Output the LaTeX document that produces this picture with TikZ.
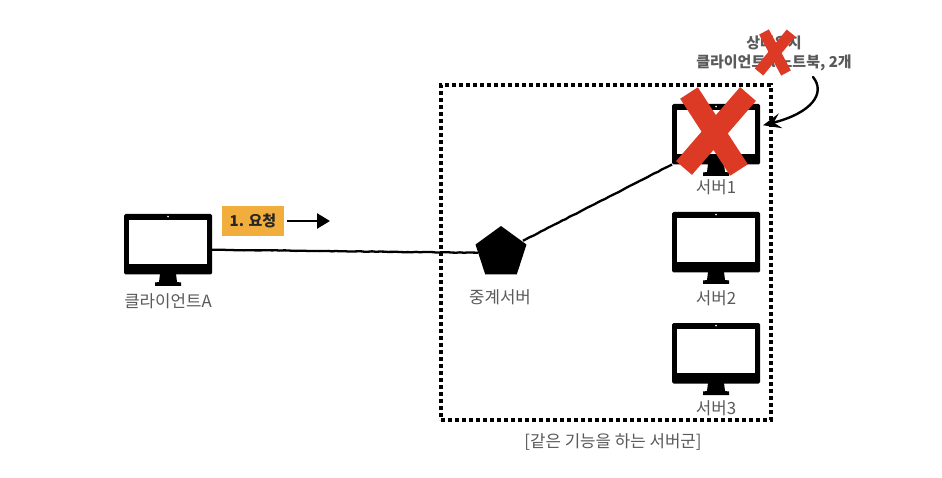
\documentclass[tikz,border=0pt]{standalone}
\usepackage{fontspec}
\setmainfont{Noto Sans CJK KR}
\usetikzlibrary{arrows.meta,shapes.geometric,decorations.pathmorphing}
\definecolor{lbl}{HTML}{5A5A5A}
\definecolor{xred}{HTML}{DC3A25}
\definecolor{reqfill}{HTML}{F1AE3D}
\tikzset{
  monbody/.style={fill=black,rounded corners=1.5pt,minimum width=88pt,minimum height=60.5pt,inner sep=0pt,outer sep=0pt},
  monscreen/.style={fill=white,minimum width=78pt,minimum height=44pt,inner sep=0pt,outer sep=0pt},
  lab/.style={text=lbl,inner sep=0pt,font=\fontsize{16.8}{18}\selectfont},
  toplab/.style={text=lbl,inner sep=0pt,font=\fontsize{15}{16}\selectfont\bfseries},
  rough/.style={draw=black,line width=2.3pt,decorate,decoration={random steps,segment length=4pt,amplitude=0.25pt}},
  groupbox/.style={draw=black,line width=3.6pt,dash pattern=on 3.6pt off 3.4pt},
  redx/.style={draw=xred,line cap=butt},
}
\newcommand{\monitorat}[3]{%
  \node[monbody] (#1) at (#2,#3+30.25) {};
  \node[monscreen] (#1scr) at (#2,#3+28) {};
  \fill[white] (#2,#3+2.6) circle (0.9pt);
  \fill[black] (#2-8,#3+60) -- (#2+8,#3+60) -- (#2+9,#3+68) -- (#2+13,#3+68.5) -- (#2+13,#3+72) -- (#2-13,#3+72) -- (#2-13,#3+68.5) -- (#2-9,#3+68) -- cycle;
}
\begin{document}
\begin{tikzpicture}[x=1pt,y=-1pt]
\useasboundingbox (0,0) rectangle (942,478);
\fill[white] (0,0) rectangle (942,478);
% group box
\node[groupbox,minimum width=330pt,minimum height=335pt,inner sep=0pt] (group) at (606,252.5) {};
% monitors
\monitorat{client}{168}{214}
\monitorat{srvA}{716}{104}
\monitorat{srvB}{716}{212}
\monitorat{srvC}{716}{323}
% relay
\node[regular polygon,regular polygon sides=5,fill=black,minimum size=53.6pt,inner sep=0pt,outer sep=0pt] (relay) at (501,252.8) {};
% connectors
\draw[rough] ([shift={(0,5.5)}]client.east) -- (relay.west);
\draw[rough] ([shift={(22,-12)}]relay.center) -- (srvA.south west);
% labels
\node[lab] (lclient) at (168,301.5) {클라이언트A};
\node[lab] (lrelay) at (500,297.5) {중계서버};
\node[lab] (lA) at (716,187.5) {서버1};
\node[lab] (lB) at (716,298.5) {서버2};
\node[lab] (lC) at (716,408.5) {서버3};
\node[lab] (lgroup) at (613,441.5) {[같은 기능을 하는 서버군]};
% request
\node[fill=reqfill,minimum width=62pt,minimum height=30pt,inner sep=0pt,font=\fontsize{15}{16}\selectfont\bfseries,text=black!85] (req) at (253,221) {1. 요청};
\coordinate (reqend) at (330,221);
\draw[line width=2.6pt,-{Triangle[length=13pt,width=15pt]}] ([shift={(3,0)}]req.east) -- (reqend);
% top note
\node[toplab] (note1) at (774,43) {상태유지};
\node[toplab] (note2) at (774,63) {클라이언트A 노트북, 2개};
\coordinate (nstart) at (813,77);
\draw[line width=2.4pt,line cap=round,-{Stealth[length=18pt,width=15pt,inset=7pt]}] (nstart) .. controls (826,93) and (812,113) .. ([shift={(3,-9)}]srvA.east);
% crosses
\draw[redx,line width=21pt] (689,93) -- (739,170);
\draw[redx,line width=21pt] (748,94) -- (684,168);
\draw[redx,line width=11pt] (764,32) -- (786,73);
\draw[redx,line width=11pt] (791,33) -- (759,72);
\end{tikzpicture}
\end{document}
